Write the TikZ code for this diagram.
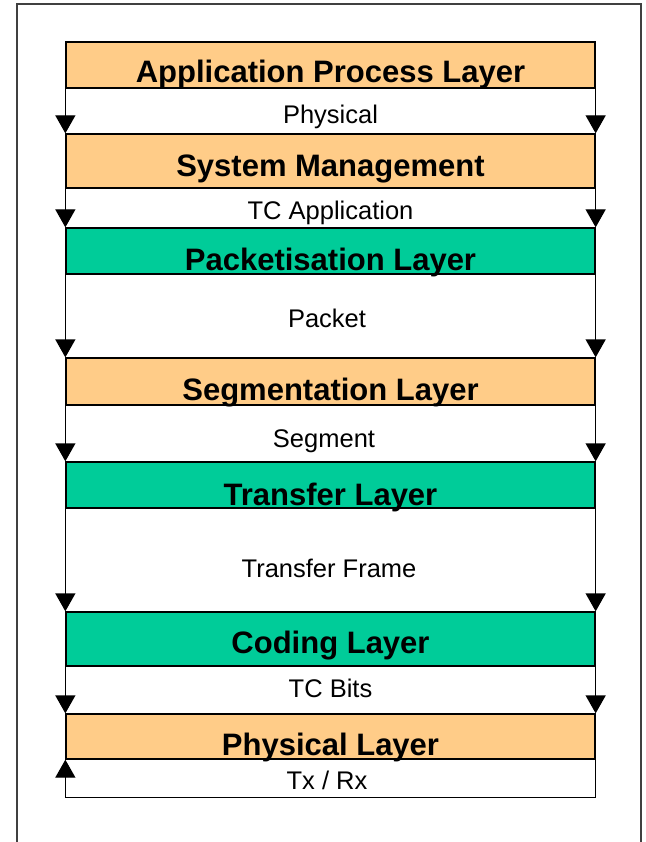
\documentclass[tikz,border=0pt]{standalone}
\usepackage{fontspec}
\setmainfont{Liberation Sans}
\usetikzlibrary{arrows.meta}

\definecolor{layersand}{RGB}{255,204,136}
\definecolor{layergreen}{RGB}{0,204,153}

\tikzset{
	layerbox/.style={draw=black, line width=1.3pt, minimum width=529pt, inner sep=0pt},
	layername/.style={anchor=base, inner sep=0pt, font=\fontsize{31}{36}\selectfont\bfseries},
	unitname/.style={anchor=base, inner sep=0pt, font=\fontsize{25.5}{30}\selectfont},
	flow/.style={line width=1.3pt, -{Triangle[width=20pt,length=18pt]}},
}

\begin{document}
\begin{tikzpicture}[x=1pt,y=-1pt]
				\useasboundingbox (0,0) rectangle (645,842);

				%Shape: outer frame
				\draw [line width=1.8pt, color=black!75] (17,850) -- (17,4) -- (641,4) -- (641,850);

				%Shape: layers
				\node [layerbox, fill=layersand, minimum height=46pt] (app) at (330.5,65) {};
				\node [layerbox, fill=layersand, minimum height=54pt] (sys) at (330.5,161) {};
				\node [layerbox, fill=layergreen, minimum height=46pt] (pack) at (330.5,251) {};
				\node [layerbox, fill=layersand, minimum height=47pt] (seg) at (330.5,381.5) {};
				\node [layerbox, fill=layergreen, minimum height=46pt] (trans) at (330.5,485) {};
				\node [layerbox, fill=layergreen, minimum height=54pt] (cod) at (330.5,639) {};
				\node [layerbox, fill=layersand, minimum height=45pt] (phy) at (330.5,736.5) {};

				% Text Node
				\node [layername] (appT) at (330.5,83) {Application Process Layer};
				\node [layername] (sysT) at (330.5,177) {System Management};
				\node [layername] (packT) at (330.5,270) {Packetisation Layer};
				\node [layername] (segT) at (330.5,400) {Segmentation Layer};
				\node [layername] (transT) at (330.5,505) {Transfer Layer};
				\node [layername] (codT) at (330.5,653) {Coding Layer};
				\node [layername] (phyT) at (330.5,755) {Physical Layer};

				% Text Node
				\node [unitname] (u1) at (330.5,124) {Physical};
				\node [unitname] (u2) at (330.5,219) {TC Application};
				\node [unitname] (u3) at (327,327) {Packet};
				\node [unitname] (u4) at (324,447) {Segment};
				\node [unitname] (u5) at (329,577) {Transfer Frame};
				\node [unitname] (u6) at (330.5,697) {TC Bits};
				\node [unitname] (u7) at (327,789) {Tx / Rx};

				%Straight Lines: flow between layers
				\foreach \up/\down in {app/sys, sys/pack, pack/seg, seg/trans, trans/cod, cod/phy} {
					\draw [flow] (\up.south west) -- (\down.north west);
					\draw [flow] (\up.south east) -- (\down.north east);
				}
				%Straight Lines: return path
				\draw [flow] (phy.south east) -- ++(0,38) -| (phy.south west);

\end{tikzpicture}
\end{document}
